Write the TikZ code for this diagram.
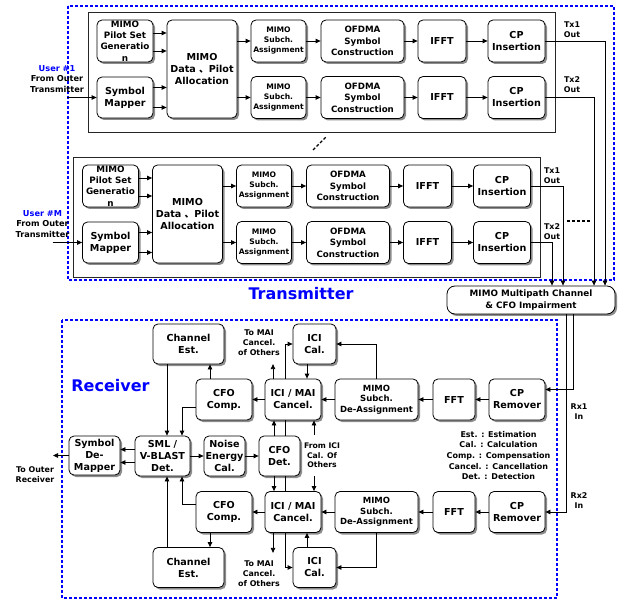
\documentclass[tikz,border=0pt]{standalone}
\usepackage{fontspec}
\setmainfont{DejaVu Sans}
\newfontfamily\cjk{Noto Sans CJK SC}
\usetikzlibrary{arrows.meta, shadows}
\tikzset{
    wire/.style={line width=0.8pt},
    arr/.style={wire, -{Triangle[length=5pt,width=4.5pt]}},
    blk/.style={draw, wire, rounded corners=5pt, fill=white, inner sep=0pt, align=center,
        drop shadow={shadow xshift=2pt, shadow yshift=-2pt, fill=black, opacity=.45},
        font=\bfseries\fontsize{9.6}{12}\selectfont},
    pilot/.style={font=\bfseries\fontsize{8.8}{11.3}\selectfont},
    subch/.style={font=\bfseries\fontsize{7.6}{10}\selectfont},
    ofdma/.style={font=\bfseries\fontsize{8.7}{11.5}\selectfont},
    deas/.style={font=\bfseries\fontsize{8.5}{10.5}\selectfont},
    note/.style={align=center, inner sep=1pt, font=\bfseries\fontsize{7.9}{10}\selectfont},
    title/.style={text=blue, inner sep=0pt, font=\bfseries\fontsize{16}{19}\selectfont},
    frame/.style={draw=black!85, line width=0.9pt},
    bluebox/.style={draw=blue, line width=1.8pt, dash pattern=on 3pt off 2pt},
    dots/.style={line width=1.4pt, dash pattern=on 3pt off 2pt}
}
\begin{document}
\begin{tikzpicture}[x=1pt, y=-1pt]
\useasboundingbox (0,0) rectangle (634,601);

%% transmitter
\draw[bluebox] (68,6) rectangle (614,280);
\node[title] (txtitle) at (301,294) {Transmitter};
\node[blk, minimum width=168, minimum height=28, rounded corners=8pt,
      font=\bfseries\fontsize{8.8}{12}\selectfont] (ch) at (531,300)
      {MIMO Multipath Channel\\\& CFO Impairment};

\foreach \usr/\dx/\dy/\lab in {1/0/0/1, m/-14.5/145/M} {
  \begin{scope}[shift={(\dx,\dy)}]
    \draw[frame] (88,12) rectangle (555,132);
    \node[note, font=\bfseries\fontsize{8.2}{10.5}\selectfont] (user\usr) at (57,79)
         {\textcolor{blue}{User \#\lab}\\From Outer\\Transmitter};
    \coordinate (in\usr) at (67,97.5);
    \node[blk, pilot, minimum width=56, minimum height=42] (pg\usr) at (125,41) {MIMO\\Pilot Set\\Generatio\\n};
    \node[blk, minimum width=56, minimum height=41] (sm\usr) at (125,97.5) {Symbol\\Mapper};
    \node[blk, minimum width=70, minimum height=98] (al\usr) at (202,69) {MIMO\\Data {\cjk 、}Pilot\\Allocation};
    \draw[arr] (in\usr) -- (sm\usr);
    \foreach \n/\s in {pg/8pt, pg/-10pt, sm/10pt, sm/-10pt}
      \draw[arr] ([yshift=\s]\n\usr.east) -- ([yshift=\s]\n\usr.east -| al\usr.west);
    \foreach \r/\ry in {1/41, 2/97.5} {
      \node[blk, subch, minimum width=55, minimum height=42] (sa\usr-\r) at (278.5,\ry) {MIMO\\Subch.\\Assignment};
      \node[blk, ofdma, minimum width=83, minimum height=42] (of\usr-\r) at (362.5,\ry) {OFDMA\\Symbol\\Construction};
      \node[blk, minimum width=48, minimum height=42] (if\usr-\r) at (442,\ry) {IFFT};
      \node[blk, minimum width=57, minimum height=42] (cp\usr-\r) at (516.5,\ry) {CP\\Insertion};
      \draw[arr] (al\usr.east |- sa\usr-\r) -- (sa\usr-\r);
      \draw[arr] (sa\usr-\r) -- (of\usr-\r);
      \draw[arr] (of\usr-\r) -- (if\usr-\r);
      \draw[arr] (if\usr-\r) -- (cp\usr-\r);
    }
  \end{scope}
}
\foreach \c/\x/\y/\tn in {1-1/572/30/1, 1-2/572/85/2, m-1/552/176/1, m-2/552/232/2}
  \node[note] (tx\c) at (\x,\y) {Tx\tn\\Out};
\foreach \c/\ox in {1-1/74pt, 1-2/63pt, m-1/32pt, m-2/21pt}
  \draw[arr] (cp\c.east) -| ([xshift=\ox]ch.north);
\draw[dots] (313,150) -- (326,137);
\draw[dots] (567,221) -- (591,221);

%% receiver
\draw[bluebox] (62,320) rectangle (557,598);
\node[title] (rxtitle) at (110.5,386) {Receiver};
\node[blk, minimum width=51, minimum height=39] (sd) at (94.5,455.5) {Symbol\\De-\\Mapper};
\node[blk, minimum width=55, minimum height=40] (det) at (162.5,456) {SML /\\V-BLAST\\Det.};
\node[blk, minimum width=41, minimum height=40] (ne) at (224.5,456) {Noise\\Energy\\Cal.};
\node[blk, minimum width=41, minimum height=40] (cd) at (279.5,456) {CFO\\Det.};
\node[note, inner ysep=8pt, font=\bfseries\fontsize{7.7}{9.5}\selectfont] (fi) at (322,455.5) {From ICI\\Cal. Of\\Others};
\node[note] (rxo) at (35,474.5) {To Outer\\Receiver};
\coordinate (rxout) at (53,455.5);
\node[note, font=\bfseries\fontsize{8}{10.7}\selectfont] (key) at (498.5,455.5)
     {Est. : Estimation\\Cal. : Calculation\\Comp. : Compensation\\Cancel. : Cancellation\\Det. : Detection};
\node[note] (rx1) at (579,412) {Rx1\\In};
\node[note] (rx2) at (579,501) {Rx2\\In};

\foreach \k/\yr/\yo/\yt/\tw/\aw/\sh in {1/399.5/344/343/south/north/-1, 2/512/567.5/574/north/south/1} {
  \node[blk, minimum width=71, minimum height=40] (ce\k) at (188.5,\yo) {Channel\\Est.};
  \node[blk, minimum width=43, minimum height=40] (ic\k) at (314.5,\yo) {ICI\\Cal.};
  \node[blk, minimum width=56, minimum height=41] (cc\k) at (224,\yr) {CFO\\Comp.};
  \node[blk, minimum width=56, minimum height=41] (mc\k) at (293,\yr) {ICI / MAI\\Cancel.};
  \node[blk, deas, minimum width=83, minimum height=41] (da\k) at (376.5,\yr) {MIMO\\Subch.\\De-Assignment};
  \node[blk, minimum width=42, minimum height=41] (ff\k) at (454,\yr) {FFT};
  \node[blk, minimum width=56, minimum height=41] (cr\k) at (517,\yr) {CP\\Remover};
  \node[note, inner ysep=8pt] (tm\k) at (259,\yt) {To MAI\\Cancel.\\of Others};
  \draw[arr] (cr\k) -- (ff\k);
  \draw[arr] (ff\k) -- (da\k);
  \draw[arr] (da\k) -- (mc\k);
  \draw[arr] (mc\k) -- (cc\k);
  \draw[arr] (da\k.\aw) |- (ic\k);
  \draw[arr] ([xshift=-7.5pt]ic\k.\tw) -- ([xshift=-7.5pt]ic\k.\tw |- mc\k.\aw);
  \draw[arr] ([xshift=-8pt]mc\k.\aw) |- (ic\k);
  \draw[arr] ([xshift=-20pt]mc\k.\aw) -- ([xshift=-20pt]mc\k.\aw |- tm\k.\tw);
  \draw[arr] ([xshift=-14pt]cc\k.\aw) -- ([xshift=-14pt]cc\k.\aw |- ce\k.\tw);
  \draw[arr] ([xshift=-21.5pt]ce\k.\tw) -- ([xshift=-21.5pt]ce\k.\tw |- det.\aw);
  \draw[arr] ([yshift=\sh*7.5pt]cc\k.west) -| ([xshift=19.5pt]det.\aw);
  \draw[arr] ([xshift=-5.5pt]cd.\aw) -- ([xshift=-5.5pt]cd.\aw |- mc\k.\tw);
  \draw[wire] ([xshift=6pt]cd.\aw) -- ([xshift=6pt]cd.\aw |- mc\k.\tw);
  \draw[arr] ([xshift=-8pt]fi.\aw) -- ([xshift=-8pt]fi.\aw |- mc\k.\tw);
}
\draw[arr] ([xshift=42pt]ch.south) |- ([yshift=10pt]cr1.east);
\draw[arr] ([xshift=35pt]ch.south) |- (cr2.east);
\draw[arr] (det) -- (ne);
\draw[arr] (ne) -- (cd);
\foreach \s in {6.5pt, -6.5pt}
  \draw[arr] ([yshift=\s]det.west) -- ([yshift=\s]det.west -| sd.east);
\draw[arr] (sd) -- (rxout);
\end{tikzpicture}
\end{document}
